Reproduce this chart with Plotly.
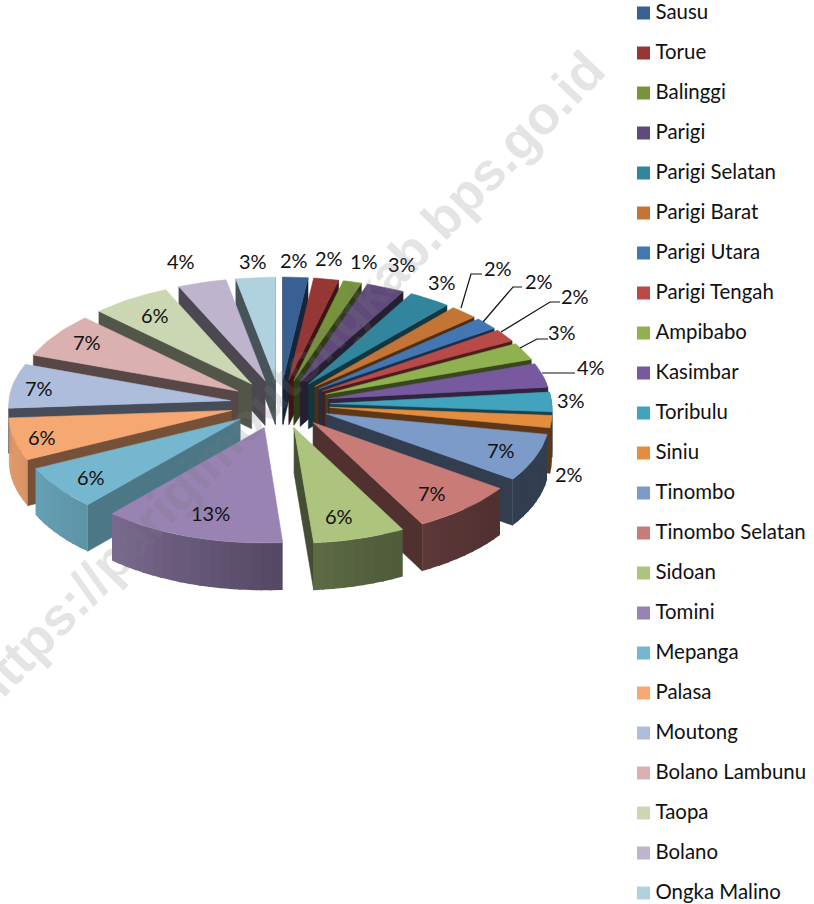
import math
import plotly.graph_objects as go

# ---- data ----
categories = ["Sausu", "Torue", "Balinggi", "Parigi", "Parigi Selatan", "Parigi Barat", "Parigi Utara",
              "Parigi Tengah", "Ampibabo", "Kasimbar", "Toribulu", "Siniu", "Tinombo", "Tinombo Selatan",
              "Sidoan", "Tomini", "Mepanga", "Palasa", "Moutong", "Bolano Lambunu", "Taopa", "Bolano",
              "Ongka Malino"]
shares = [1.9, 1.9, 1.4, 2.9, 3.2, 2.1, 1.8, 1.9, 2.6, 3.6, 2.9, 1.8, 6.9, 7.4, 6.4, 12.7, 6.3, 6.2, 6.6,
          6.8, 6.0, 3.7, 3.0]
colors = ["#386092", "#953735", "#77933C", "#604A7B", "#31859C", "#C27535", "#4377B3", "#B84B48", "#8FB14F",
          "#7759A0", "#41A3BD", "#E58D3F", "#7C9BC9", "#C97B78", "#ACC47E", "#9883B3", "#75B7CF", "#F6A873",
          "#AEBDDB", "#DAB1B0", "#CBD7B3", "#BEB4CE", "#B0D2DE"]

# ---- label placement (pixels on the page) ----
label_xy = [(294, 260), (329, 258), (364, 261), (402, 264), (442, 282), (498, 268), (539, 281), (575, 296),
            (562, 332), (591, 367), (571, 400), (569, 474), (501, 450), (432, 493), (339, 516), (210, 513),
            (91, 477), (42, 437), (39, 388), (87, 342), (155, 315), (181, 261), (253, 261)]
leaders = {5: [(461, 308), (471, 274), (482, 274)], 6: [(483, 322), (513, 287), (522, 287)],
           7: [(501, 332), (550, 302), (560, 302)], 8: [(520, 348), (537, 339), (548, 339)],
           9: [(542, 373), (575, 373)]}

# ---- 3D pie projection ----
CX, CY, R, EX, YS, P, H = 280, 404, 222, 50, 0.49, 0.05, 45
RMAX = R + EX
FONT = "Lato"
TEXT = "#111111"


def project(x, y, z=0.0):
    f = 1 / (1 - P * y / RMAX)
    return CX + x * f, CY + y * YS * f + H * f * z


def rgb(hexc, k):
    return "rgb(%d,%d,%d)" % tuple(min(255, round(int(hexc[i:i + 2], 16) * k)) for i in (1, 3, 5))


def side_k(theta):
    pts = [(0, .4), (130, .4), (160, .48), (176, .55), (220, .8), (250, .9), (270, .9), (290, .45), (360, .4)]
    for (a, ka), (b, kb) in zip(pts, pts[1:]):
        if a <= theta <= b:
            return ka + (kb - ka) * (theta - a) / (b - a)
    return .4


def area(poly):
    return sum(a[0] * b[1] - b[0] * a[1] for a, b in zip(poly, poly[1:] + poly[:1]))


fig = go.Figure()


def add_poly(poly, color, width=0.6):
    fig.add_trace(go.Scatter(x=[p[0] for p in poly] + [poly[0][0]], y=[p[1] for p in poly] + [poly[0][1]],
                             mode="lines", fill="toself", fillcolor=color, line=dict(color=color, width=width),
                             hoverinfo="skip", showlegend=False))


total = sum(shares)
slices = []
acc = 0.0
for i, v in enumerate(shares):
    a0 = acc / total * 360
    acc += v
    a1 = acc / total * 360
    slices.append((i, a0, a1))


def pt(ox, oy, t, z=0.0):
    r = math.radians(t)
    return project(ox + R * math.sin(r), oy - R * math.cos(r), z)


# paint from the back of the pie to the front
for i, a0, a1 in sorted(slices, key=lambda s: -math.cos(math.radians((s[1] + s[2]) / 2))):
    c = colors[i]
    b = math.radians((a0 + a1) / 2)
    ox, oy = EX * math.sin(b), -EX * math.cos(b)
    # radial faces
    for t, k_flip in ((a0, 1), (a1, -1)):
        face = [project(ox, oy), pt(ox, oy, t), pt(ox, oy, t, 1), project(ox, oy, 1)]
        if area(face) * k_flip > 0:
            continue
        k = 0.65 if 215 < t < 240 else (0.48 if 240 <= t < 262 else 0.4)
        add_poly(face, rgb(c, k))
    # curved outer face split in strips for the shading; each strip overlaps the next to hide seams
    n = max(2, int((a1 - a0) / 2.5))
    for j in range(n):
        t0 = a0 + (a1 - a0) * j / n
        t1 = a0 + (a1 - a0) * (j + 1) / n
        te = min(a1, t1 + 0.6)
        if 78 < (t0 + t1) / 2 < 268:
            add_poly([pt(ox, oy, t0), pt(ox, oy, te), pt(ox, oy, te, 1), pt(ox, oy, t0, 1)],
                     rgb(c, side_k((t0 + t1) / 2)), width=0)
    # top face
    n = max(3, int((a1 - a0) / 1.5))
    add_poly([project(ox, oy)] + [pt(ox, oy, a0 + (a1 - a0) * j / n) for j in range(n + 1)], c)

# leader lines
for pts in leaders.values():
    fig.add_trace(go.Scatter(x=[p[0] for p in pts], y=[p[1] for p in pts], mode="lines",
                             line=dict(color=TEXT, width=1.2), hoverinfo="skip", showlegend=False))

# legend column
legend_y = [13 + 40 * i for i in range(len(categories))]
fig.add_trace(go.Scatter(x=[643.5] * len(categories), y=legend_y, mode="markers",
                         marker=dict(symbol="square", size=13, color=colors, line=dict(width=0)),
                         hoverinfo="skip", showlegend=False, cliponaxis=False))
fig.add_trace(go.Scatter(x=[655.5] * len(categories), y=[y + 0.5 for y in legend_y], mode="text", text=categories,
                         textposition="middle right", textfont=dict(family=FONT, size=20.4, color=TEXT),
                         hoverinfo="skip", showlegend=False, cliponaxis=False))

# percentage labels
anns = [dict(x=x, y=y, xref="x", yref="y", text=f"{round(v)}%", showarrow=False,
             font=dict(family=FONT, size=20, color=TEXT))
        for (x, y), v in zip(label_xy, shares)]
# watermark
anns.append(dict(x=285, y=380, xref="x", yref="y", text="<b>https://parigimoutongkab.bps.go.id</b>",
                 showarrow=False, textangle=-46,
                 font=dict(family="Liberation Sans", size=53, color="rgba(120,120,120,0.2)")))

fig.update_layout(
    width=814, height=904, margin=dict(l=0, r=0, t=0, b=0), paper_bgcolor="white", plot_bgcolor="white",
    xaxis=dict(range=[0, 814], visible=False, fixedrange=True),
    yaxis=dict(range=[904, 0], visible=False, fixedrange=True),
    annotations=anns, showlegend=False,
)
fig.write_html("out.html", config={"displayModeBar": False},
               post_script="document.body.style.margin='0';document.body.style.overflow='hidden';")
